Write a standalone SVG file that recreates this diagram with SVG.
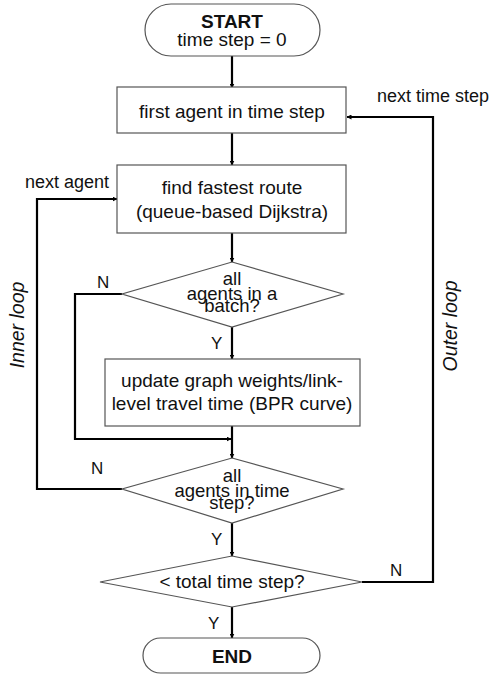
<svg xmlns="http://www.w3.org/2000/svg" width="489" height="677" viewBox="0 0 489 677">
<defs>
<marker id="ah" viewBox="0 0 10 10" refX="9" refY="5" markerWidth="5" markerHeight="5" orient="auto" markerUnits="userSpaceOnUse">
<path d="M0,0 L10,5 L0,10 z" fill="#000"/>
</marker>
<style>
.shape{fill:#fff;stroke:#555;stroke-width:1.2}
.t{font-family:"Liberation Sans",Arial,sans-serif;font-size:19px;fill:#111;text-anchor:middle}
.d{font-size:18.5px}
.b{font-weight:bold}
.lbl{font-family:"Liberation Sans",Arial,sans-serif;font-size:17px;fill:#111}
.nx{font-size:18px}
.it{font-family:"Liberation Sans",Arial,sans-serif;font-size:19.5px;font-style:italic;fill:#111;text-anchor:middle}
.c{fill:none;stroke:#000;stroke-width:2.2}
</style>
</defs>
<rect width="489" height="677" fill="#fff"/>
<g id="connectors">
<line class="c" x1="232" y1="56" x2="232" y2="88" marker-end="url(#ah)"/>
<line class="c" x1="232" y1="133" x2="232" y2="165" marker-end="url(#ah)"/>
<line class="c" x1="232" y1="233" x2="232" y2="262" marker-end="url(#ah)"/>
<line class="c" x1="232" y1="327" x2="232" y2="359" marker-end="url(#ah)"/>
<line class="c" x1="232" y1="426" x2="232" y2="458" marker-end="url(#ah)"/>
<polyline class="c" points="122,294 75,294 75,439 231,439" marker-end="url(#ah)"/>
<polyline class="c" points="122,489 37,489 37,199 117,199" marker-end="url(#ah)"/>
<line class="c" x1="232" y1="523" x2="232" y2="556" marker-end="url(#ah)"/>
<polyline class="c" points="362,582 433,582 433,117 347,117" marker-end="url(#ah)"/>
<line class="c" x1="232" y1="607" x2="232" y2="638" marker-end="url(#ah)"/>
<text class="lbl" x="97" y="288">N</text>
<text class="lbl" x="211" y="349">Y</text>
<text class="lbl" x="91" y="474">N</text>
<text class="lbl" x="211" y="545">Y</text>
<text class="lbl" x="390" y="576">N</text>
<text class="lbl" x="208" y="629">Y</text>
<text class="lbl nx" x="25" y="188">next agent</text>
<text class="lbl nx" x="377" y="102">next time step</text>
<text class="it" transform="translate(24,325) rotate(-90)">Inner loop</text>
<text class="it" transform="translate(457,326) rotate(-90)">Outer loop</text>
</g>
<g id="start">
<rect class="shape" x="145" y="4" width="175" height="52" rx="26" ry="26"/>
<text class="t b" x="232" y="28">START</text>
<text class="t" x="232" y="46">time step = 0</text>
</g>
<g id="first-agent">
<rect class="shape" x="117" y="87" width="229" height="46"/>
<text class="t" x="232" y="118">first agent in time step</text>
</g>
<g id="find-route">
<rect class="shape" x="117" y="165" width="229" height="68"/>
<text class="t" x="232" y="194">find fastest route</text>
<text class="t" x="232" y="218">(queue-based Dijkstra)</text>
</g>
<g id="batch-check">
<polygon class="shape" points="232,262 343,294 232,327 122,294"/>
<text class="t d" x="232" y="285">all</text>
<text class="t d" x="232" y="300">agents in a</text>
<text class="t d" x="232" y="312">batch?</text>
</g>
<g id="update-weights">
<rect class="shape" x="105" y="359" width="255" height="67"/>
<text class="t" x="232" y="387">update graph weights/link-</text>
<text class="t" x="232" y="410">level travel time (BPR curve)</text>
</g>
<g id="timestep-check">
<polygon class="shape" points="232,458 343,489 232,523 122,489"/>
<text class="t d" x="232" y="482">all</text>
<text class="t d" x="232" y="497">agents in time</text>
<text class="t d" x="232" y="509">step?</text>
</g>
<g id="total-check">
<polygon class="shape" points="232,556 362,582 232,607 100,582"/>
<text class="t" x="232" y="588">&lt; total time step?</text>
</g>
<g id="end">
<rect class="shape" x="143" y="638" width="177" height="35" rx="17.5" ry="17.5"/>
<text class="t b" x="232" y="663">END</text>
</g>
</svg>
